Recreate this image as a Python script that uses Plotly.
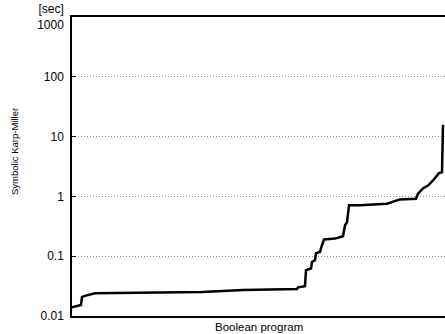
import plotly.graph_objects as go

# Sorted per-program times (rank along x, seconds on y)
program_rank = [0, 9, 10, 12, 23, 80, 130, 171, 225, 226, 233, 234, 239, 240, 243, 244, 248, 250,
                252, 263, 271, 273, 275, 277, 288, 315, 328, 344, 346, 351, 356, 361, 365, 367, 370, 371]
seconds = [0.0140, 0.0153, 0.0207, 0.0215, 0.0239, 0.0242, 0.0251, 0.0271, 0.0282, 0.0301, 0.0316,
           0.0584, 0.0624, 0.080, 0.0858, 0.112, 0.118, 0.153, 0.190, 0.197, 0.215, 0.329, 0.372,
           0.708, 0.708, 0.755, 0.89, 0.915, 1.11, 1.36, 1.52, 1.85, 2.24, 2.45, 2.53, 15.8]

tick_vals = [0.01, 0.1, 1, 10, 100, 1000]
tick_text = ["0.01", "0.1", "1", "10", "100", "[sec]<br>1000"]

x_title = "Boolean program"
y_title = "Symbolic Karp-Miller"

font = "Liberation Sans, Arial, Helvetica, sans-serif"

W, H = 445, 334
L, R, T, B = 72, 0, 17, 18
plot_h = H - T - B
plot_w = W - L - R

fig = go.Figure()
fig.add_trace(go.Scatter(x=program_rank, y=seconds, mode="lines",
                         line=dict(color="black", width=2.5), showlegend=False,
                         hoverinfo="skip"))

fig.update_layout(
    width=W, height=H,
    margin=dict(l=L, r=R, t=T, b=B, autoexpand=False),
    paper_bgcolor="white", plot_bgcolor="white",
    font=dict(family=font, size=12, color="black"),
    xaxis=dict(range=[0, 373], showgrid=False, zeroline=False, showticklabels=False,
               ticks="", showline=True, mirror=True, linecolor="black", linewidth=1.5),
    yaxis=dict(type="log", range=[-2, 3], tickvals=tick_vals, ticktext=tick_text,
               showgrid=True, gridcolor="#8c8c8c", griddash="1px,2px", gridwidth=1,
               ticks="inside", ticklen=4, tickcolor="black", tickwidth=1,
               showline=True, mirror=False, linecolor="black", linewidth=1.5,
               tickfont=dict(size=12, family=font), ticklabelstandoff=4),
    annotations=[
        dict(text=x_title, xref="paper", yref="paper", x=0.5, y=(316 - 327) / plot_h,
             xanchor="center", yanchor="middle", showarrow=False,
             font=dict(size=11.5, family=font)),
        dict(text=y_title, textangle=-90, xref="paper", yref="paper",
             x=(14 - L) / plot_w, y=(316 - 152) / plot_h,
             xanchor="center", yanchor="middle", showarrow=False,
             font=dict(size=9.5, family=font)),
    ],
)

fig.write_html("out.html", config={"displayModeBar": False},
               post_script="document.body.style.margin='0';document.body.style.overflow='hidden';")
